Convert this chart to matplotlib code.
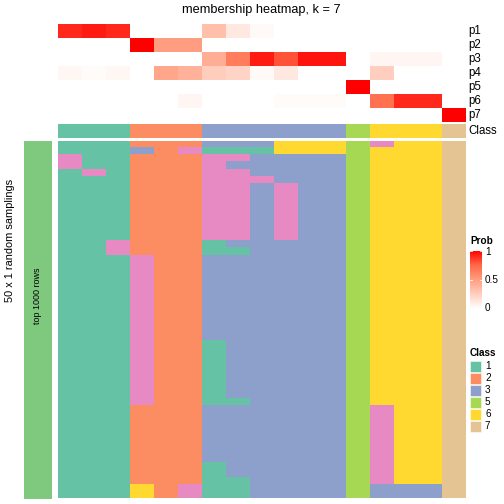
import numpy as np
import matplotlib
matplotlib.use("Agg")
import matplotlib.pyplot as plt
from matplotlib.colors import ListedColormap, LinearSegmentedColormap

plt.rcParams["font.family"] = ["Liberation Sans", "DejaVu Sans"]

# membership probabilities, one list per class row, 17 samples (columns)
p1 = [0.90, 0.93, 0.90, 0, 0, 0, 0.33, 0.12, 0.03, 0, 0, 0, 0, 0, 0, 0, 0]
p2 = [0, 0, 0, 1.0, 0.50, 0.50, 0, 0, 0, 0, 0, 0, 0, 0, 0, 0, 0]
p3 = [0, 0, 0, 0, 0, 0, 0.42, 0.65, 0.93, 0.80, 0.95, 0.95, 0, 0.05, 0.05, 0.05, 0]
p4 = [0.04, 0.02, 0.04, 0, 0.46, 0.40, 0.26, 0.22, 0.03, 0.12, 0, 0, 0, 0.25, 0, 0, 0]
p5 = [0, 0, 0, 0, 0, 0, 0, 0, 0, 0, 0, 0, 1.0, 0, 0, 0, 0]
p6 = [0, 0, 0, 0, 0, 0.05, 0, 0, 0, 0.02, 0.02, 0.02, 0, 0.70, 0.90, 0.90, 0]
p7 = [0, 0, 0, 0, 0, 0, 0, 0, 0, 0, 0, 0, 0, 0, 0, 0, 1.0]
prob_labels = ["p1", "p2", "p3", "p4", "p5", "p6", "p7"]

# consensus class of each sample
sample_class = [1, 1, 1, 2, 2, 2, 3, 3, 3, 3, 3, 3, 5, 6, 6, 6, 7]

# class of each sample in the 50 random samplings (one string per sampling)
samplings = [
    "11122233366654667",
    "11132411166656667",
    "41122244333356667",
    "41122243333356667",
    "14122244333356667",
    "11122244433356667",
    "11122244343356667",
    "11122244343356667",
    "11122244343356667",
    "11122244343356667",
    "11122244343356667",
    "11122244343356667",
    "11122244343356667",
    "11122244343356667",
    "11422213333356667",
    "11422211333356667",
    "11142233333356667",
    "11142233333356667",
    "11142233333356667",
    "11142233333356667",
    "11142233333356667",
    "11142233333356667",
    "11142233333356667",
    "11142233333356667",
    "11142233333356667",
    "11142233333356667",
    "11142233333356667",
    "11142233333356667",
    "11142213333356667",
    "11142213333356667",
    "11142213333356667",
    "11142213333356667",
    "11142213333356667",
    "11142213333356667",
    "11142213333356667",
    "11142213333356667",
    "11142211333356667",
    "11122233333354667",
    "11122233333354667",
    "11122233333354667",
    "11122233333354667",
    "11122233333354667",
    "11122233333354667",
    "11122233333354667",
    "11122233333354667",
    "11122213333354667",
    "11122213333354667",
    "11122211333354667",
    "11162411333353337",
    "11162411333353337",
]

legend_classes = [1, 2, 3, 5, 6, 7]
class_colors = ["#66C2A5", "#FC8D62", "#8DA0CB", "#E78AC3", "#A6D854", "#FFD92F", "#E5C494"]

W = H = 504.0


def px(x0, y0, x1, y1):
    # pixel box (from top-left) -> figure fraction rect
    return [x0 / W, 1 - y1 / H, (x1 - x0) / W, (y1 - y0) / H]


def bare(ax):
    ax.set_xticks([])
    ax.set_yticks([])
    for s in ax.spines.values():
        s.set_visible(False)


prob_cmap = LinearSegmentedColormap.from_list(
    "prob", [(0, "#FFFFFF"), (0.25, "#FFCFBF"), (0.5, "#FF9E81"), (0.75, "#FF6746"), (1, "#FF0000")])
class_cmap = ListedColormap(class_colors)

fig = plt.figure(figsize=(7, 7), dpi=72)

x0, x1 = 57.5, 465.5

# probability heatmap
prob = np.array([p1, p2, p3, p4, p5, p6, p7])
ax = fig.add_axes(px(x0, 24, x1, 122))
ax.imshow(prob, cmap=prob_cmap, vmin=0, vmax=1, aspect="auto", interpolation="nearest")
bare(ax)
for i, lab in enumerate(prob_labels):
    fig.text(468 / W, 1 - (24 + 14 * i + 7) / H, lab, fontsize=11.5, va="center", ha="left")

# class annotation row
ax = fig.add_axes(px(x0, 124, x1, 138.5))
ax.imshow(np.array([sample_class]) - 1, cmap=class_cmap, vmin=-0.5, vmax=6.5,
          aspect="auto", interpolation="nearest")
bare(ax)
fig.text(468 / W, 1 - 131.5 / H, "Class", fontsize=11.5, va="center", ha="left")

# sampling heatmap
mat = np.array([[int(c) for c in r] for r in samplings])
ax = fig.add_axes(px(x0, 141, x1, 498.5))
ax.imshow(mat - 1, cmap=class_cmap, vmin=-0.5, vmax=6.5, aspect="auto", interpolation="nearest")
bare(ax)

# left annotation
ax = fig.add_axes(px(24, 141, 52, 498.5))
ax.set_facecolor("#7FC97F")
bare(ax)
fig.text(38 / W, 1 - 296 / H, "top 1000 rows", rotation=90, fontsize=9, ha="center", va="center")
fig.text(10 / W, 1 - 240 / H, "50 x 1 random samplings", rotation=90, fontsize=11,
         ha="center", va="center")

# title
fig.text(261.5 / W, 1 - 10 / H, "membership heatmap, k = 7", fontsize=12.8, ha="center", va="center")

# legends
fig.text(470 / W, 1 - 241 / H, "Prob", fontsize=10, fontweight="bold", ha="left", va="center")
ax = fig.add_axes(px(470, 251, 482, 309))
ax.imshow(np.linspace(1, 0, 100).reshape(-1, 1), cmap=prob_cmap, vmin=0, vmax=1, aspect="auto")
bare(ax)
for v in [1, 0.5, 0]:
    yy = 1 - v
    ax.plot([0, 0.2], [yy, yy], color="white", lw=0.8, transform=ax.transAxes)
    ax.plot([0.8, 1], [yy, yy], color="white", lw=0.8, transform=ax.transAxes)
    fig.text(485 / W, 1 - (252 + 56 * (1 - v)) / H, f"{v:g}", fontsize=10, ha="left", va="center")

fig.text(470 / W, 1 - 353 / H, "Class", fontsize=10, fontweight="bold", ha="left", va="center")
for i, c in enumerate(legend_classes):
    yc = 366 + 12 * i
    fig.patches.append(plt.Rectangle(((470) / W, 1 - (yc + 5.5) / H), 11 / W, 11 / H,
                                     facecolor=class_colors[c - 1], edgecolor="white", lw=0.5,
                                     transform=fig.transFigure, figure=fig))
    fig.text(485 / W, 1 - yc / H, str(c), fontsize=10, ha="left", va="center")

fig.savefig("out.png", dpi=72)
